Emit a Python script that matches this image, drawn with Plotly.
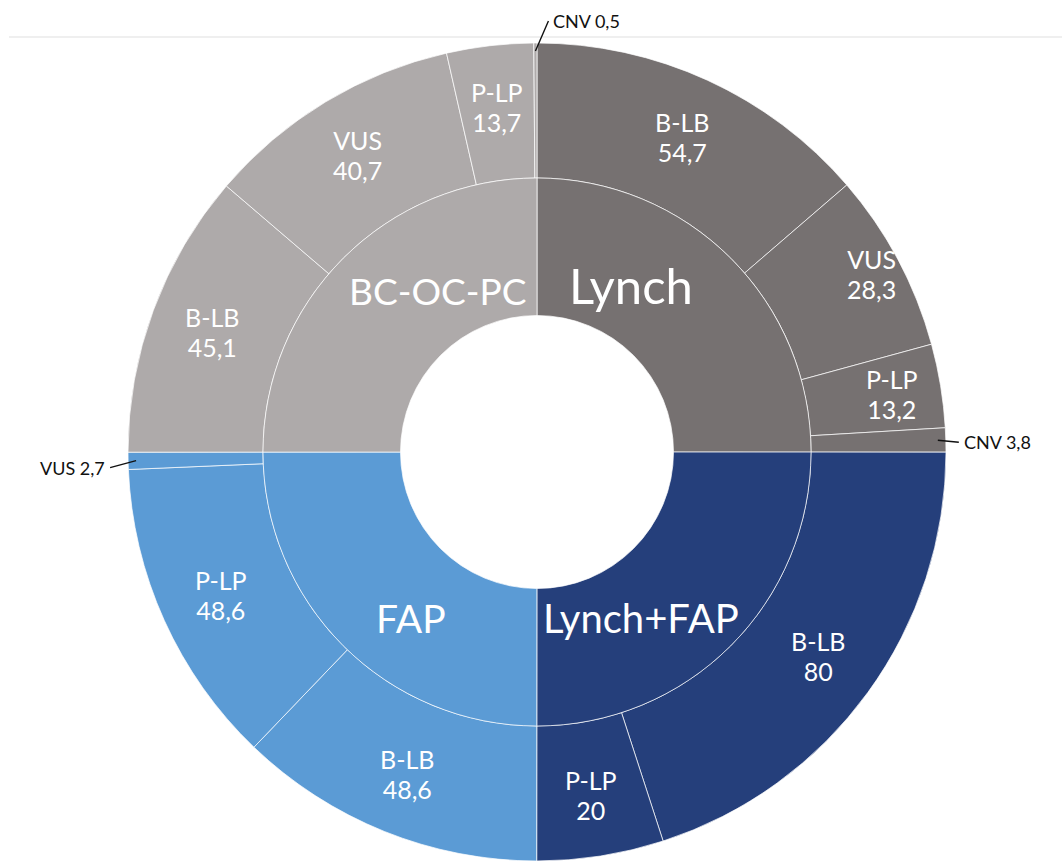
import math
import plotly.graph_objects as go

# ---------------- data ----------------
groups = ["Lynch", "Lynch+FAP", "FAP", "BC-OC-PC"]

lynch_labels = ["B-LB", "VUS", "P-LP", "CNV"]
lynch_values = [54.7, 28.3, 13.2, 3.8]

lynchfap_labels = ["B-LB", "P-LP"]
lynchfap_values = [80, 20]

fap_labels = ["B-LB", "P-LP", "VUS"]
fap_values = [48.6, 48.6, 2.7]

bcocpc_labels = ["B-LB", "VUS", "P-LP", "CNV"]
bcocpc_values = [45.1, 40.7, 13.7, 0.5]

sub_labels = [lynch_labels, lynchfap_labels, fap_labels, bcocpc_labels]
sub_values = [lynch_values, lynchfap_values, fap_values, bcocpc_values]

# ---------------- style ----------------
group_colors = ["#767171", "#253F7B", "#5B9BD5", "#AEAAAA"]
W, H = 1062, 861
CX, CY = 537, 452            # pie centre in pixels (from top-left)
R_OUT, R_MID, R_IN = 409, 274, 136.5
FONT = "Lato"
inner_label_sizes = [49, 40, 39, 37]
inner_label_radius = [192, 196, 208, 190]
inner_label_pull = [15.6, 13, 7.8, 13.4]   # degrees toward the vertical axis
outer_label_radius = 347
outer_label_radius_adj = {(0, "VUS"): 32, (0, "P-LP"): 13}
outer_base_size = 23
outer_text_size = 25
small_threshold = 5
ext_offsets = {(3, "CNV"): (13, -30), (0, "CNV"): (21, 2), (2, "VUS"): (-26, 7)}
sep = "rgba(255,255,255,0.7)"


def fmt(v):
    return f"{v:g}".replace(".", ",")


def domain(r):
    return dict(
        x=[max(0.0, (CX - r) / W), min(1.0, (CX + r) / W)],
        y=[max(0.0, (H - CY - r) / H), min(1.0, (H - CY + r) / H)],
    )


def to_paper(theta_deg, r):
    t = math.radians(theta_deg)
    px = CX + r * math.sin(t)
    py = CY - r * math.cos(t)
    return px / W, 1 - py / H


# ---------------- traces ----------------
outer_ids, outer_vals, outer_cols = [], [], []
for gi, g in enumerate(groups):
    for lab, v in zip(sub_labels[gi], sub_values[gi]):
        outer_ids.append(f"{g} {lab}")
        outer_vals.append(v)
        outer_cols.append(group_colors[gi])

group_totals = [sum(v) for v in sub_values]

fig = go.Figure()
fig.add_trace(go.Pie(
    labels=outer_ids, values=outer_vals, sort=False, direction="clockwise",
    rotation=0, hole=R_MID / R_OUT, domain=domain(R_OUT),
    marker=dict(colors=outer_cols, line=dict(color=sep, width=1)),
    textinfo="none", hoverinfo="label+value", showlegend=False,
))
fig.add_trace(go.Pie(
    labels=groups, values=group_totals, sort=False, direction="clockwise",
    rotation=0, hole=R_IN / R_MID, domain=domain(R_MID),
    marker=dict(colors=group_colors, line=dict(color=sep, width=1)),
    textinfo="none", hoverinfo="label", showlegend=False,
))

# ---------------- labels ----------------
annotations = []
total = sum(outer_vals)

# inner ring labels
cum = 0
gtot = sum(group_totals)
for gi, g in enumerate(groups):
    mid = (cum + group_totals[gi] / 2) / gtot * 360
    cum += group_totals[gi]
    target = 0 if (mid < 90 or mid > 270) else 180
    diff = ((target - mid + 180) % 360) - 180
    ang = mid + math.copysign(inner_label_pull[gi], diff)
    x, y = to_paper(ang, inner_label_radius[gi])
    annotations.append(dict(
        x=x, y=y, xref="paper", yref="paper", text=g, showarrow=False,
        font=dict(family=FONT, size=inner_label_sizes[gi], color="white"),
        xanchor="center", yanchor="middle",
    ))

# outer ring labels
cum = 0
for gi, g in enumerate(groups):
    for lab, v in zip(sub_labels[gi], sub_values[gi]):
        mid = (cum + v / 2) / total * 360
        cum += v
        if v >= small_threshold:
            r = outer_label_radius + outer_label_radius_adj.get((gi, lab), 0)
            x, y = to_paper(mid, r)
            span = f'<span style="font-size:{outer_text_size}px">'
            annotations.append(dict(
                x=x, y=y, xref="paper", yref="paper",
                text=f"{span}{lab}</span><br>{span}{fmt(v)}</span>",
                showarrow=False,
                font=dict(family=FONT, size=outer_base_size, color="white"),
                xanchor="center", yanchor="middle",
            ))
        else:
            x, y = to_paper(mid, R_OUT - 8)
            ax, ay = ext_offsets.get((gi, lab), (20, 0))
            annotations.append(dict(
                x=x, y=y, xref="paper", yref="paper",
                text=f"{lab} {fmt(v)}", showarrow=True, arrowhead=0,
                arrowwidth=1.4, arrowcolor="#111111", ax=ax, ay=ay,
                standoff=0, borderpad=4,
                xanchor="left" if ax > 0 else "right", yanchor="middle",
                font=dict(family=FONT, size=18, color="#111111"),
            ))

fig.update_layout(
    width=W, height=H, margin=dict(l=0, r=0, t=0, b=0),
    paper_bgcolor="white", plot_bgcolor="white",
    annotations=annotations,
    shapes=[dict(type="line", xref="paper", yref="paper", x0=9 / W, x1=1,
                 y0=1 - 37 / H, y1=1 - 37 / H,
                 line=dict(color="#EFEFEF", width=2), layer="below")],
)

fig.write_html("out.html")
